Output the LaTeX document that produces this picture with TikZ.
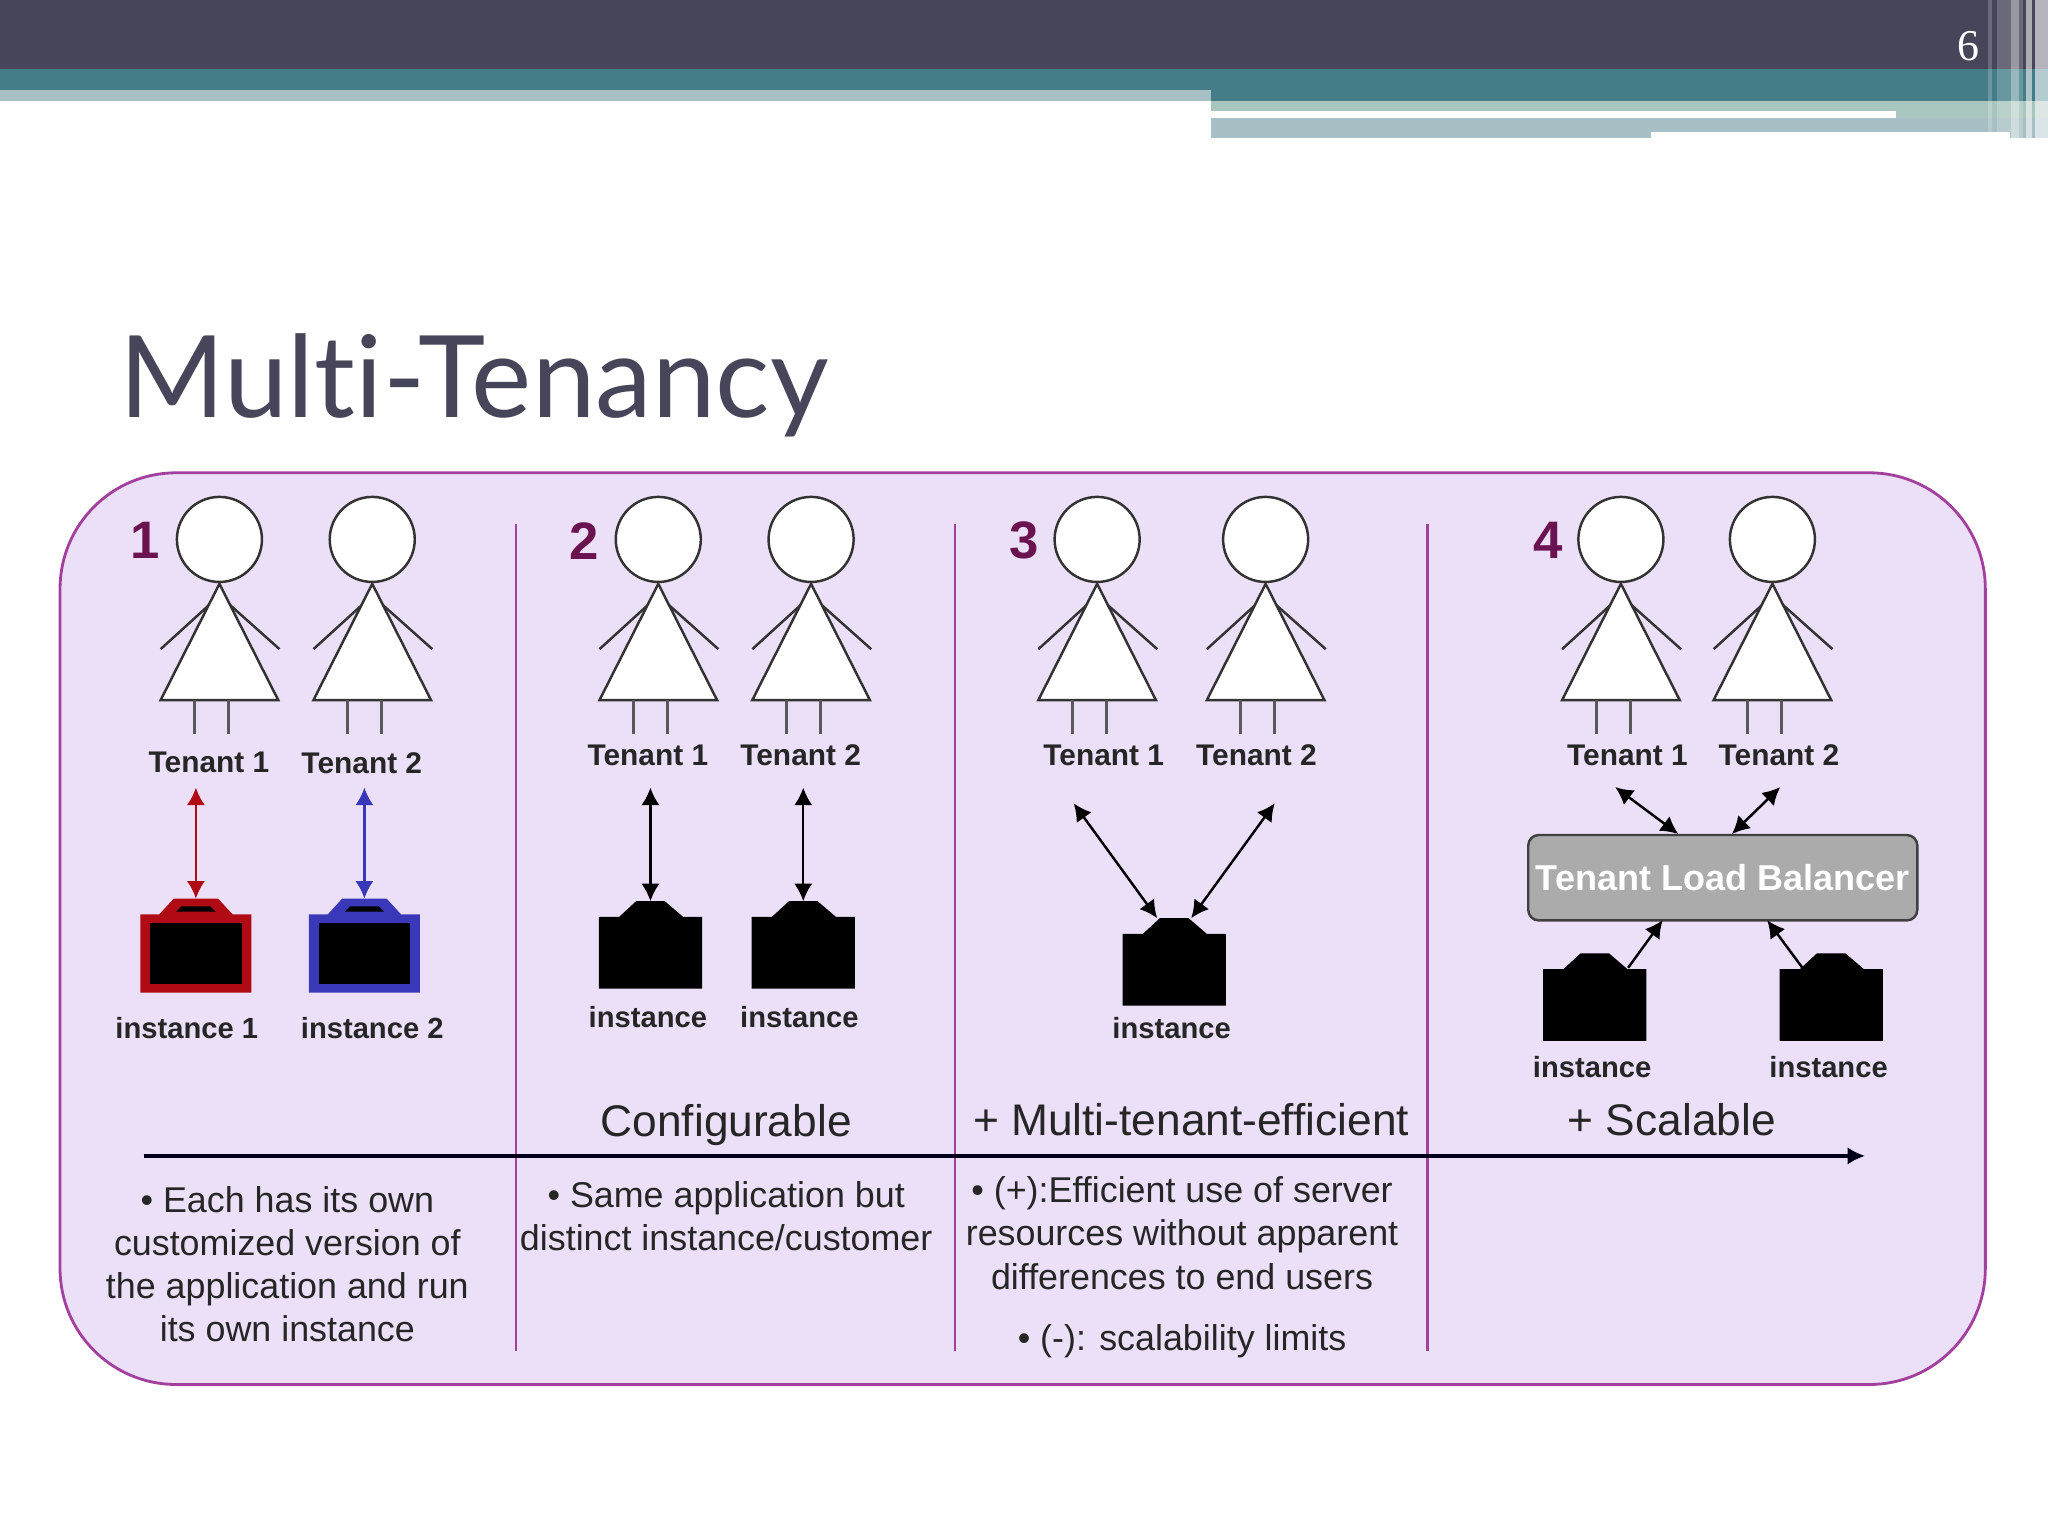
\documentclass[tikz,border=0pt]{standalone}
\usepackage{fontspec}
\setmainfont{Liberation Sans}
\newfontfamily\titlefont[Ligatures=NoCommon]{Lato}
\newfontfamily\numfont{Liberation Serif}
\usetikzlibrary{arrows.meta}
\definecolor{slate}{HTML}{474559}
\definecolor{teal2}{HTML}{447D87}
\definecolor{pale}{HTML}{A7C0C5}
\definecolor{palegreen}{HTML}{A8C5BF}
\definecolor{panelfill}{HTML}{ECDFF8}
\definecolor{panelline}{HTML}{A33F9C}
\definecolor{numcol}{HTML}{6B1250}
\definecolor{redbox}{HTML}{B00A14}
\definecolor{bluebox}{HTML}{3838B8}
\newcommand{\tenant}[2]{\begin{scope}[shift={(#2,0)}]
\draw[figline] (-45,497) -- (0,456) -- (46,497);
\draw[figline, fill=white] (0,447) -- (-45,536) -- (45,536) -- cycle;
\draw[figleg] (-19,536) -- (-19,562);
\draw[figleg] (7,536) -- (7,562);
\node[head] (#1) at (0,413) { };
\end{scope}}
\newcommand{\instance}[3]{\begin{scope}[shift={(#2,#3)}]
\fill[black] (-39.5,0) -- (-24,0) -- (-11,-12) -- (11,-12) -- (25,0) -- (39.5,0) -- (39.5,55) -- (-39.5,55) -- cycle;
\coordinate (#1) at (0,-12);
\end{scope}}
\newcommand{\instancecol}[3]{\begin{scope}[shift={(#2,700)}]
\fill[#3] (-42.5,0) -- (-28,0) -- (-17,-12) -- (17,-12) -- (28,0) -- (42.5,0) -- (42.5,60) -- (-42.5,60) -- cycle;
\fill[black] (-35,7) rectangle (35,53);
\fill[black] (-15,-2) -- (-11,-6) -- (11,-6) -- (15,-2) -- cycle;
\coordinate (#1) at (0,-12);
\end{scope}}

\begin{document}
\begin{tikzpicture}[x=0.013061cm,y=-0.013061cm]
\tikzstyle{head} = [draw=black!80, fill=white, circle, minimum size=24.2pt, inner sep=0pt, line width=0.7pt];
\tikzstyle{figline} = [draw=black!80, line width=0.7pt];
\tikzstyle{figleg} = [draw=black!65, line width=0.85pt];
\tikzstyle{tenantlabel} = [font=\bfseries\fontsize{8.5}{10}\selectfont, text=black!85];
\tikzstyle{instlabel} = [font=\bfseries\fontsize{8.3}{10}\selectfont, text=black!85];
\tikzstyle{num} = [font=\bfseries\fontsize{15}{18}\selectfont, text=numcol];
\tikzstyle{heading} = [font=\fontsize{12.6}{15}\selectfont, text=black!85];
\tikzstyle{body} = [font=\fontsize{10.2}{12.3}\selectfont, text=black!85, align=center];
\tikzstyle{link} = [<->, >={Latex[length=5pt,width=5.2pt]}, line width=0.7pt];
\tikzstyle{divider} = [draw=panelline, line width=0.7pt];
\useasboundingbox (0,0) rectangle (1568,1176);
\fill[white] (0,0) rectangle (1568,1176);
% header bars
\fill[palegreen] (927,77) rectangle (1568,101);
\fill[pale] (927,90) rectangle (1264,106);
\fill[pale] (1264,90) rectangle (1568,101);
\fill[pale] (1539,101) rectangle (1568,106);
\fill[white] (927,85) rectangle (1452,90);
\fill[pale] (0,69) rectangle (927,77);
\fill[teal2] (0,53) rectangle (927,69);
\fill[teal2] (927,53) rectangle (1568,77);
\fill[slate] (0,0) rectangle (1568,53);
\foreach \xa/\xb/\yb/\op in {1522/1525/101/.2, 1529/1539.5/101/.2, 1539.5/1546/106/.45, 1546/1549/106/.2, 1551/1556/106/.55, 1558/1568/106/.6}
  \fill[white, opacity=\op] (\xa,0) rectangle (\xb,\yb);
\node[text=white, font=\numfont\fontsize{12.5}{15}\selectfont] (page) at (1507,35) {6};
\node[anchor=base west, inner sep=0pt, text=slate, font=\titlefont\fontsize{32.4}{38}\selectfont] (title) at (91,320) {Multi-Tenancy};
% panel
\node[draw=panelline, fill=panelfill, rounded corners=33pt, line width=0.8pt, minimum width=547.8pt, minimum height=259.4pt, inner sep=0pt] (panel) at (783,711) { };
\draw[divider] (395,401) -- (395,1034);
\draw[divider] (731,401) -- (731,1034);
\draw[divider] (1093,401) -- (1093,1034);
\node[num] (n1) at (111,414) {1};
\node[num] (n2) at (447,414) {2};
\node[num] (n3) at (784,414) {3};
\node[num] (n4) at (1185,414) {4};
\tenant{h1a}{168}
\tenant{h1b}{285}
\tenant{h2a}{504}
\tenant{h2b}{621}
\tenant{h3a}{840}
\tenant{h3b}{969}
\tenant{h4a}{1241}
\tenant{h4b}{1357}
\node[tenantlabel] (t1a) at (160,584) {Tenant 1};
\node[tenantlabel] (t1b) at (277,584) {Tenant 2};
\node[tenantlabel] (t2a) at (496,578) {Tenant 1};
\node[tenantlabel] (t2b) at (613,578) {Tenant 2};
\node[tenantlabel] (t3a) at (845,578) {Tenant 1};
\node[tenantlabel] (t3b) at (962,578) {Tenant 2};
\node[tenantlabel] (t4a) at (1246,578) {Tenant 1};
\node[tenantlabel] (t4b) at (1362,578) {Tenant 2};
\instancecol{i1a}{150}{redbox}
\instancecol{i1b}{279}{bluebox}
\instance{i2a}{498}{702}
\instance{i2b}{615}{702}
\instance{i3}{899}{715}
\instance{i4a}{1221}{742}
\instance{i4b}{1402}{742}
\node[instlabel] (l1a) at (143,787) {instance 1};
\node[instlabel] (l1b) at (285,787) {instance 2};
\node[instlabel] (l2a) at (496,779) {instance};
\node[instlabel] (l2b) at (612,779) {instance};
\node[instlabel] (l3) at (897,787) {instance};
\node[instlabel] (l4a) at (1219,817) {instance};
\node[instlabel] (l4b) at (1400,817) {instance};
\node[draw=black!75, fill=black!33, rounded corners=3pt, line width=0.7pt, minimum width=110.7pt, minimum height=24.3pt, inner sep=0pt, text=white, font=\bfseries\fontsize{10.25}{12}\selectfont] (lb) at (1319,672) {Tenant Load Balancer};
% free ends of the arrows
\coordinate (e1a) at (150,603);
\coordinate (e1b) at (279,603);
\coordinate (e2a) at (498,603);
\coordinate (e2b) at (615,603);
\coordinate (e3a) at (822,615);
\coordinate (e3b) at (976,615);
\coordinate (s3a) at (886,703);
\coordinate (s3b) at (912,703);
\coordinate (e4a) at (1236.6,602.6);
\coordinate (e4b) at (1363,602.6);
\coordinate (s4a) at (1285,638.6);
\coordinate (s4b) at (1326,638.6);
\coordinate (o4a) at (1246.5,741);
\coordinate (o4b) at (1380,741);
\coordinate (m4a) at (1273,704.5);
\coordinate (m4b) at (1353,704.5);
\draw[link, draw=redbox, fill=redbox] (e1a) -- (i1a);
\draw[link, draw=bluebox, fill=bluebox] (e1b) -- (i1b);
\draw[link] (e2a) -- (i2a);
\draw[link] (e2b) -- (i2b);
\draw[link] (e3a) -- (s3a);
\draw[link] (e3b) -- (s3b);
\draw[link] (e4a) -- (s4a);
\draw[link] (e4b) -- (s4b);
\draw[-{Latex[length=5pt,width=5.2pt]}, line width=0.7pt] (o4a) -- (m4a);
\draw[-{Latex[length=5pt,width=5.2pt]}, line width=0.7pt] (o4b) -- (m4b);
% evolution axis
\coordinate (ax0) at (110,885);
\coordinate (ax1) at (1428,885);
\draw[-{Latex[length=5pt,width=5pt]}, line width=1.2pt, draw=black!90!blue] (ax0) -- (ax1);
\node[heading] (h2) at (556,861) {Configurable};
\node[heading] (h3) at (912,857) {+ Multi-tenant-efficient};
\node[heading] (h4) at (1280,857) {+ Scalable};
\node[body] (b1) at (220,968) {• Each has its own\\customized version of\\the application and run\\its own instance};
\node[body] (b2) at (556,931) {• Same application but\\distinct instance/customer};
\node[body] (b3) at (905,944) {• (+):Efficient use of server\\resources without apparent\\differences to end users};
\node[body] (b4) at (905,1027) {• (-): scalability limits};
\end{tikzpicture}
\end{document}
